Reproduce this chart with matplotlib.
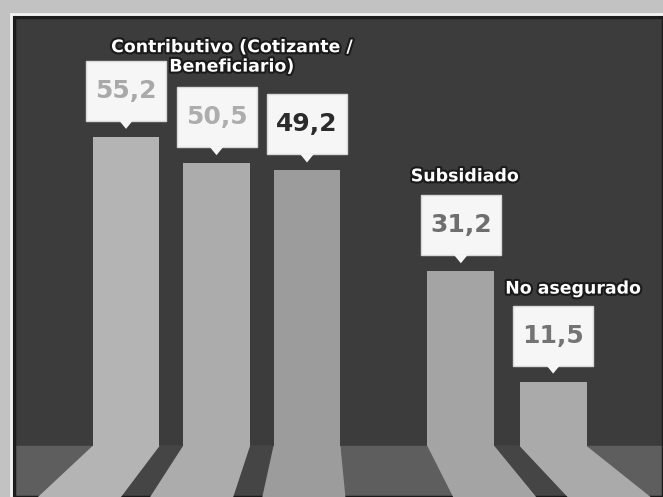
import numpy as np
import matplotlib.pyplot as plt
from matplotlib.patches import Polygon, Rectangle
import matplotlib.patheffects as pe

# datos del grafico
valores = [55.2, 50.5, 49.2, 31.2, 11.5]
etiquetas_valor = ['55,2', '50,5', '49,2', '31,2', '11,5']
posiciones = [0, 1, 2, 3.7, 4.72]
grupos = ['Contributivo (Cotizante /\nBeneficiario)', 'Subsidiado', 'No asegurado']
grupo_barra = [0, 3, 4]

colores_barra = ['#b4b4b4', '#acacac', '#9c9c9c', '#a4a4a4', '#aaaaaa']
colores_texto = ['#a9a9a9', '#adadad', '#2b2b2b', '#6e6e6e', '#747474']

W, H = 663, 497
sx, sy = 90.5, 5.6          # pixeles por unidad en x / y
ancho = 0.74

fig = plt.figure(figsize=(W / 100, H / 100), dpi=100, facecolor='#c2c2c2')
ax = fig.add_axes([14 / W, 0, 649 / W, 480 / H])
ax.set_facecolor('#3c3c3c')
ax.set_xlim((14 - 126) / sx, (663 - 126) / sx)
ylo = -51 / sy
ax.set_ylim(ylo, (480 - 51) / sy)
ax.set_xticks([])
ax.set_yticks([])
for s in ax.spines.values():
    s.set_color('#1c1c1c')
    s.set_linewidth(2.5)

# piso
ax.axhspan(ylo, 0, color='#5e5e5e', zorder=1)

# patas en perspectiva
vp, k = (320 - 126) / sx, 1.24
def pata(x0, x1):
    return [(x0, 0), (x1, 0), (vp + (x1 - vp) * k, ylo), (vp + (x0 - vp) * k, ylo)]

for i in range(1, len(posiciones)):
    prev_r = posiciones[i - 1] + ancho / 2
    cur_l = posiciones[i] - ancho / 2
    if cur_l - prev_r < 0.4:
        ax.add_patch(Polygon(pata(prev_r, cur_l), closed=True, fc='#454545', ec='none', zorder=2))

for p, c in zip(posiciones, colores_barra):
    ax.add_patch(Polygon(pata(p - ancho / 2, p + ancho / 2), closed=True, fc=c, ec='none', zorder=3))

ax.bar(posiciones, valores, width=ancho, color=colores_barra, zorder=3)

# cajas con el valor
bw, bh, gap = 80 / sx, 60 / sy, 16 / sy
tw, th = 7 / sx, 8 / sy
for p, v, lab, tc in zip(posiciones, valores, etiquetas_valor, colores_texto):
    y0 = v + gap
    ax.add_patch(Rectangle((p - bw / 2, y0), bw, bh, fc='#f6f6f6', ec='#d8d8d8', lw=1, zorder=5))
    ax.add_patch(Polygon([(p - tw, y0 + 0.1), (p + tw, y0 + 0.1), (p, y0 - th)],
                         closed=True, fc='#f6f6f6', ec='none', zorder=5))
    ax.text(p, y0 + bh / 2, lab, ha='center', va='center', fontsize=18,
            fontweight='bold', color=tc, zorder=6)

# etiquetas de grupo
desp = [(106, 4), (4, 19), (20, 17)]
sombra = [pe.withStroke(linewidth=3, foreground='#1a1a1a')]
for g, b, (dx, dy) in zip(grupos, grupo_barra, desp):
    tope = valores[b] + gap + bh
    ax.annotate(g, xy=(posiciones[b], tope), xytext=(dx, dy), textcoords='offset pixels',
                ha='center', va='center', multialignment='center', fontsize=12.5,
                fontweight='bold', color='white', path_effects=sombra, zorder=7,
                linespacing=1.1)

# marco blanco fino
fig.add_artist(Rectangle((11 / W, -0.05), 1, 483 / H + 0.05, transform=fig.transFigure,
                         fill=False, ec='#f2f2f2', lw=2))

fig.savefig('out.png', dpi=100, facecolor=fig.get_facecolor())
